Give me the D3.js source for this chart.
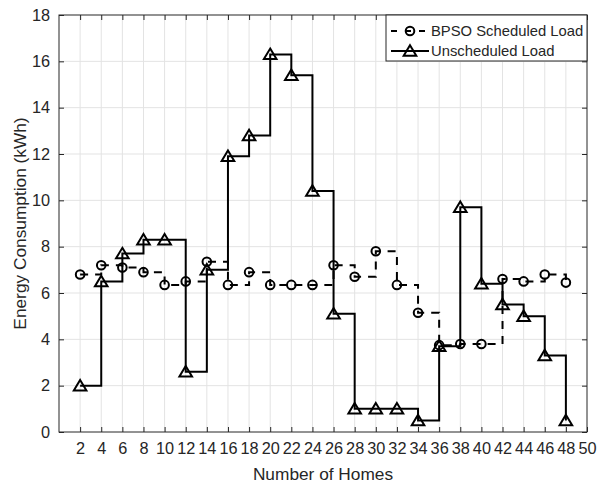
<!DOCTYPE html>
<html>
<head>
<meta charset="utf-8">
<script src="https://cdn.jsdelivr.net/npm/d3@7"></script>
<style>
  html, body { margin: 0; padding: 0; background: #fff; }
  svg { display: block; }
  text { font-family: "Liberation Sans", Arial, Helvetica, sans-serif; fill: #262626; }
</style>
</head>
<body>
<svg id="chart" width="597" height="488"></svg>
<script>
// ---- data ----
const homes = [2,4,6,8,10,12,14,16,18,20,22,24,26,28,30,32,34,36,38,40,42,44,46,48];
const bpsoScheduled = [6.8,7.2,7.1,6.9,6.35,6.5,7.35,6.35,6.9,6.35,6.35,6.35,7.2,6.7,7.8,6.35,5.15,3.75,3.8,3.8,6.6,6.5,6.8,6.45];
const unscheduled = [2.0,6.5,7.7,8.3,8.3,2.6,7.0,11.9,12.8,16.3,15.4,10.4,5.1,1.0,1.0,1.0,0.5,3.7,9.7,6.4,5.5,5.0,3.3,0.5];
const xTicks = [2,4,6,8,10,12,14,16,18,20,22,24,26,28,30,32,34,36,38,40,42,44,46,48,50];
const yTicks = [0,2,4,6,8,10,12,14,16,18];
const seriesNames = ["BPSO Scheduled Load", "Unscheduled Load"];
const xTitle = "Number of Homes";
const yTitle = "Energy Consumption (kWh)";

// ---- layout ----
const L = 59, R = 587, T = 15, B = 432;
const svg = d3.select("#chart");
const x = d3.scaleLinear().domain([0, 50]).range([L, R]);
const y = d3.scaleLinear().domain([0, 18]).range([B, T]);

// grid
const grid = svg.append("g");
grid.selectAll("line.vx").data(xTicks.filter(d => d < 50)).enter().append("line")
  .attr("x1", d => x(d)).attr("x2", d => x(d)).attr("y1", T).attr("y2", B)
  .attr("stroke", "#e3e3e3").attr("stroke-width", 1);
grid.selectAll("line.hy").data(yTicks.filter(d => d > 0 && d < 18)).enter().append("line")
  .attr("x1", L).attr("x2", R).attr("y1", d => y(d)).attr("y2", d => y(d))
  .attr("stroke", "#e3e3e3").attr("stroke-width", 1);

// axes
const tickLen = 5;
const xAxis = svg.append("g").attr("transform", `translate(0,${B})`)
  .call(d3.axisBottom(x).tickValues(xTicks).tickSize(-tickLen).tickPadding(10));
const xAxisTop = svg.append("g").attr("transform", `translate(0,${T})`)
  .call(d3.axisTop(x).tickValues(xTicks).tickSize(-tickLen).tickFormat(""));
const yAxis = svg.append("g").attr("transform", `translate(${L},0)`)
  .call(d3.axisLeft(y).tickValues(yTicks).tickSize(-tickLen).tickPadding(9));
const yAxisR = svg.append("g").attr("transform", `translate(${R},0)`)
  .call(d3.axisRight(y).tickValues(yTicks).tickSize(-tickLen).tickFormat(""));
[xAxis, xAxisTop, yAxis, yAxisR].forEach(g => {
  g.select(".domain").remove();
  g.selectAll(".tick line").attr("stroke", "#262626").attr("stroke-width", 1);
  g.selectAll(".tick text").attr("font-size", 16.3).attr("fill", "#262626")
    .style("font-family", "'Liberation Sans', Arial, sans-serif");
});
svg.append("rect").attr("x", L).attr("y", T).attr("width", R - L).attr("height", B - T)
  .attr("fill", "none").attr("stroke", "#262626").attr("stroke-width", 1);

// titles
svg.append("text").attr("x", (L + R) / 2).attr("y", 480).attr("text-anchor", "middle")
  .attr("font-size", 17.3).text(xTitle);
svg.append("text").attr("transform", `translate(26,${(T + B) / 2}) rotate(-90)`)
  .attr("text-anchor", "middle").attr("font-size", 17.3).text(yTitle);

// series
const step = d3.line().x(d => x(d[0])).y(d => y(d[1])).curve(d3.curveStepAfter);
const bData = homes.map((h, i) => [h, bpsoScheduled[i]]);
const uData = homes.map((h, i) => [h, unscheduled[i]]);

const triPath = (cx, cy) => {
  const w = 6.3, h = 10.5;
  return `M${cx},${cy - h * 0.55}L${cx + w},${cy + h * 0.45}L${cx - w},${cy + h * 0.45}Z`;
};

function drawSeries(data, dashed, marker) {
  const g = svg.append("g");
  g.append("path").attr("d", step(data)).attr("fill", "none").attr("stroke", "#000")
    .attr("stroke-width", 2).attr("stroke-dasharray", dashed ? "8,7" : null);
  if (marker === "circle") {
    g.selectAll("circle").data(data).enter().append("circle")
      .attr("cx", d => x(d[0])).attr("cy", d => y(d[1])).attr("r", 4.3)
      .attr("fill", "none").attr("stroke", "#000").attr("stroke-width", 2);
  } else {
    g.selectAll("path.m").data(data).enter().append("path").attr("class", "m")
      .attr("d", d => triPath(x(d[0]), y(d[1])))
      .attr("fill", "none").attr("stroke", "#000").attr("stroke-width", 2);
  }
}
drawSeries(bData, true, "circle");
drawSeries(uData, false, "triangle");

// legend
const lg = svg.append("g");
lg.append("rect").attr("x", 386).attr("y", T).attr("width", R - 386).attr("height", 46)
  .attr("fill", "#fff").attr("stroke", "#262626").attr("stroke-width", 1);
const rows = [31, 51];
// BPSO sample
lg.append("line").attr("x1", 391).attr("x2", 429).attr("y1", rows[0]).attr("y2", rows[0])
  .attr("stroke", "#000").attr("stroke-width", 2).attr("stroke-dasharray", "6,8");
lg.append("circle").attr("cx", 410).attr("cy", rows[0]).attr("r", 4.3)
  .attr("fill", "none").attr("stroke", "#000").attr("stroke-width", 2);
lg.append("line").attr("x1", 391).attr("x2", 429).attr("y1", rows[1]).attr("y2", rows[1])
  .attr("stroke", "#000").attr("stroke-width", 2);
lg.append("path").attr("d", triPath(410, rows[1])).attr("fill", "none")
  .attr("stroke", "#000").attr("stroke-width", 2);
lg.selectAll("text.l").data(seriesNames).enter().append("text").attr("class", "l")
  .attr("x", 431).attr("y", (d, i) => rows[i]).attr("dy", "0.36em")
  .attr("font-size", 14.8).attr("fill", "#000").text(d => d);
</script>
</body>
</html>
